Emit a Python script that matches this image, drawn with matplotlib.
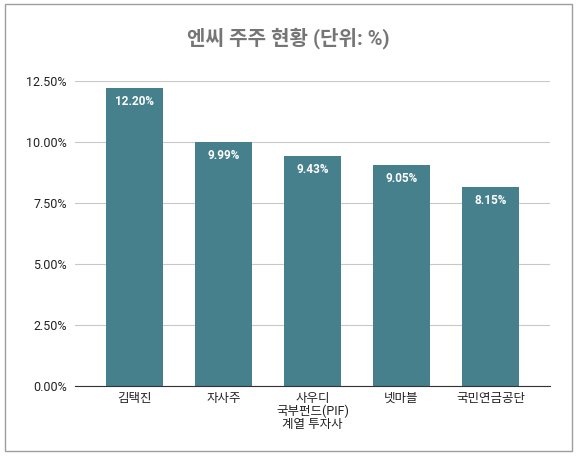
import matplotlib.pyplot as plt
from matplotlib.patches import Rectangle
from matplotlib.ticker import FuncFormatter, MultipleLocator

plt.rcParams['font.family'] = ['Roboto', 'Noto Sans CJK KR', 'DejaVu Sans']

# 데이터
holders = ['김택진', '자사주', '사우디\n국부펀드(PIF)\n계열 투자사', '넷마블', '국민연금공단']
shares = [12.20, 9.99, 9.43, 9.05, 8.15]

fig = plt.figure(figsize=(5.77, 4.57), dpi=100)
fig.patch.set_facecolor('white')

# 차트 테두리
fig.patches.append(Rectangle((5 / 577, 1 - 451 / 457), 567 / 577, 447 / 457,
                             transform=fig.transFigure, fill=False,
                             edgecolor='#9e9e9e', linewidth=1.0))

ax = fig.add_axes([75 / 577, 1 - 386 / 457, 475 / 577, 305 / 457])

bars = ax.bar(range(len(holders)), shares, width=0.64, color='#45808c', zorder=3)

for bar, v in zip(bars, shares):
    ax.annotate(f'{v:.2f}%', (bar.get_x() + bar.get_width() / 2, v),
                xytext=(0, -5), textcoords='offset points', ha='center', va='top',
                color='white', fontsize=8.5, fontweight='bold', zorder=4)

ax.set_xlim(-0.67, 4.67)
ax.set_ylim(0, 12.5)
ax.yaxis.set_major_locator(MultipleLocator(2.5))
ax.yaxis.set_major_formatter(FuncFormatter(lambda y, _: f'{y:.2f}%'))
ax.set_xticks(range(len(holders)))
ax.set_xticklabels(holders, fontsize=9, linespacing=1.0)
ax.tick_params(axis='y', length=0, pad=6, labelsize=9, labelcolor='#222222')
ax.tick_params(axis='x', length=0, pad=4, labelcolor='#222222')

ax.grid(axis='y', color='#c8c8c8', linewidth=0.8, zorder=0)
for s in ['top', 'right', 'left']:
    ax.spines[s].set_visible(False)
ax.spines['bottom'].set_color('#333333')
ax.spines['bottom'].set_zorder(5)

fig.text(0.5, 1 - 38 / 457, '엔씨 주주 현황 (단위: %)', ha='center', va='center',
         fontsize=14.5, fontweight='bold', color='#757575')

fig.savefig('out.png', dpi=100)
